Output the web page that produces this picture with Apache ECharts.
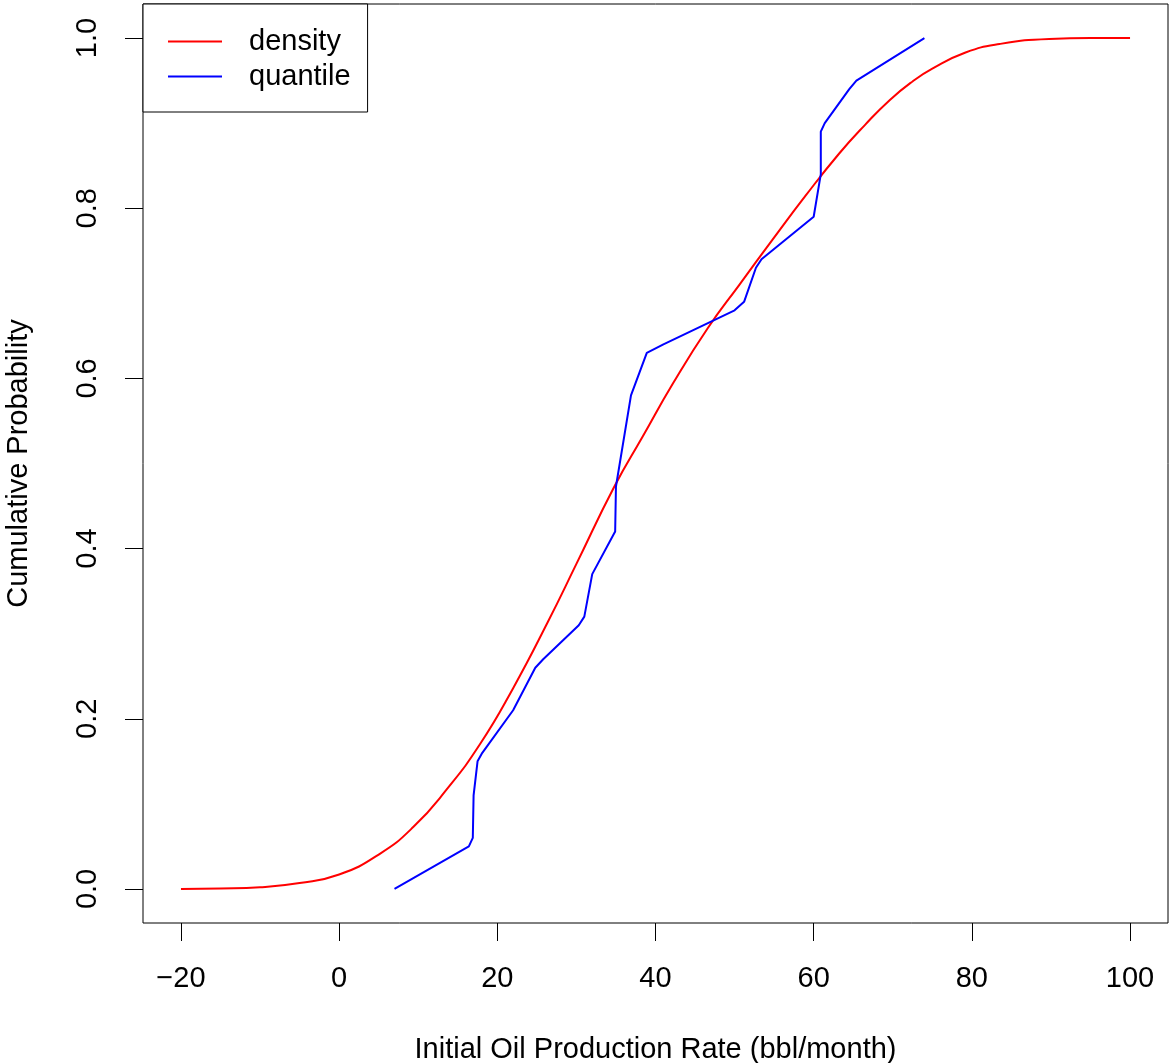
<!DOCTYPE html>
<html>
<head>
<meta charset="utf-8">
<script src="https://cdn.jsdelivr.net/npm/echarts@6/dist/echarts.min.js"></script>
<style>
html,body{margin:0;padding:0;background:#fff;}
#chart{width:1171px;height:1063px;}
</style>
</head>
<body>
<div id="chart"></div>
<script>
// Density-based CDF (red)
var densityX = [-20, -15, -10, -5, 0, 5.1, 9.4, 13.6, 17.8, 22, 26.4, 30, 34.8, 38.4, 42.2, 46.6, 50.6, 54.8, 59, 63.2, 66.5, 69.6, 72.5, 75, 79.2, 83.5, 89.8, 95, 100];
var densityY = [0, 0.0005, 0.002, 0.007, 0.017, 0.041, 0.073, 0.117, 0.170, 0.236, 0.314, 0.382, 0.473, 0.532, 0.594, 0.659, 0.710, 0.763, 0.815, 0.864, 0.898, 0.927, 0.949, 0.964, 0.983, 0.993, 0.999, 1.0, 1.0];
// Empirical quantiles (blue)
var quantileX = [7, 16.4, 16.9, 17, 17.5, 18.1, 22, 24.8, 25.8, 30.3, 31, 32, 34.9, 35, 36.9, 38.9, 41, 50, 51.2, 52.7, 53.4, 60, 60.9, 60.9, 61.4, 64.5, 65.4, 74];
var quantileY = [0, 0.05, 0.06, 0.11, 0.15, 0.16, 0.21, 0.26, 0.27, 0.31, 0.32, 0.37, 0.42, 0.473, 0.58, 0.63, 0.64, 0.68, 0.69, 0.73, 0.74, 0.79, 0.84, 0.89, 0.90, 0.94, 0.95, 1.0];
// Tick labels
var xTicks = [-20, 0, 20, 40, 60, 80, 100];
var yTicks = [0, 0.2, 0.4, 0.6, 0.8, 1.0];

function pairs(xs, ys){ return xs.map(function(x,i){ return [x, ys[i]]; }); }

var FONT = 'Liberation Sans, Arial, Helvetica, sans-serif';
var FS = 29;

var chart = echarts.init(document.getElementById('chart'), null, {renderer:'canvas'});
chart.setOption({
  backgroundColor: '#ffffff',
  animation: false,
  textStyle: {fontFamily: FONT},
  grid: {left: 143, top: 4, width: 1025, height: 919, show: true, borderColor: '#000', borderWidth: 1,
    backgroundColor: 'transparent', containLabel: false, outerBoundsMode: 'none'},
  xAxis: {
    type: 'value', min: -24.8, max: 104.8,
    splitLine: {show: false},
    axisLine: {show: false, onZero: false},
    axisTick: {show: true, length: 18, lineStyle: {color: '#000', width: 1}, customValues: xTicks},
    axisLabel: {customValues: xTicks, margin: 41, color: '#000', fontSize: FS, fontFamily: FONT,
      formatter: function(v){ return v < 0 ? '\u2212' + Math.abs(v) : String(v); }},
    name: 'Initial Oil Production Rate (bbl/month)', nameLocation: 'middle', nameGap: 112,
    nameTextStyle: {color: '#000', fontSize: FS, fontFamily: FONT}
  },
  yAxis: {
    type: 'value', min: -0.04, max: 1.04,
    splitLine: {show: false},
    axisLine: {show: false, onZero: false},
    axisTick: {show: true, length: 18, lineStyle: {color: '#000', width: 1}, customValues: yTicks},
    axisLabel: {customValues: yTicks, rotate: 90, margin: 41, color: '#000', fontSize: FS, fontFamily: FONT,
      formatter: function(v){ return v.toFixed(1); }},
    name: 'Cumulative Probability', nameLocation: 'middle', nameGap: 110, nameRotate: 90,
    nameTextStyle: {color: '#000', fontSize: FS, fontFamily: FONT}
  },
  legend: {
    left: 143, top: 4, orient: 'vertical',
    backgroundColor: '#fff', borderColor: '#000', borderWidth: 1, borderRadius: 0,
    padding: [23, 17, 21, 25], itemGap: 6,
    itemWidth: 54, itemHeight: 2, icon: 'rect',
    textStyle: {color: '#000', fontSize: FS, fontFamily: FONT, padding: [5, 0, 0, 22]},
    data: [{name: 'density', icon: 'rect'}, {name: 'quantile', icon: 'rect'}]
  },
  series: [
    {name: 'density', type: 'line', data: pairs(densityX, densityY), showSymbol: false, symbol: 'none',
      smooth: 0.5, color: '#ff0000', lineStyle: {color: '#ff0000', width: 2}, z: 2},
    {name: 'quantile', type: 'line', data: pairs(quantileX, quantileY), showSymbol: false, symbol: 'none',
      color: '#0000ff', lineStyle: {color: '#0000ff', width: 2}, z: 3}
  ]
});
</script>
</body>
</html>
